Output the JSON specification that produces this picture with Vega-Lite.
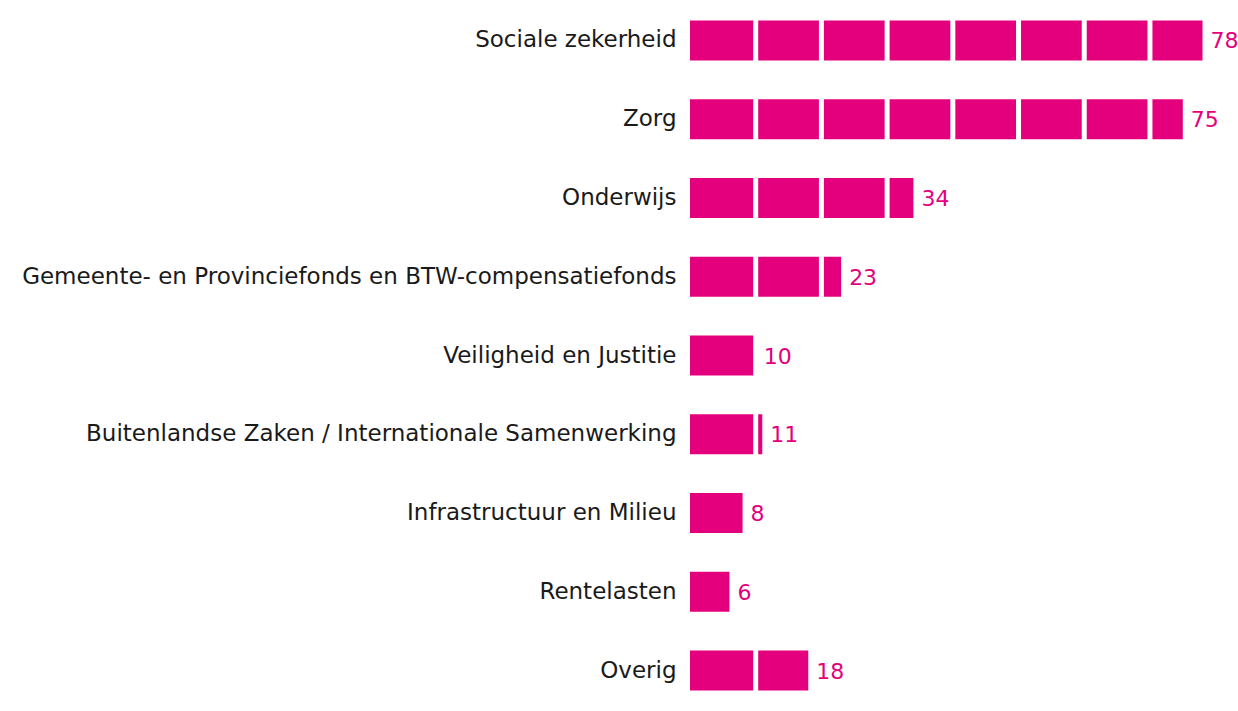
{
  "$schema": "https://vega.github.io/schema/vega-lite/v6.json",
  "autosize": "none",
  "padding": {"left": 690, "top": 1, "right": 0, "bottom": 0},
  "width": 548,
  "height": 709,
  "background": "white",
  "config": {"view": {"stroke": null}, "font": "DejaVu Sans"},
  "datasets": {
    "bars": [
      {"categorie": "Sociale zekerheid", "waarde": 78},
      {"categorie": "Zorg", "waarde": 75},
      {"categorie": "Onderwijs", "waarde": 34},
      {"categorie": "Gemeente- en Provinciefonds en BTW-compensatiefonds", "waarde": 23},
      {"categorie": "Veiligheid en Justitie", "waarde": 10},
      {"categorie": "Buitenlandse Zaken / Internationale Samenwerking", "waarde": 11},
      {"categorie": "Infrastructuur en Milieu", "waarde": 8},
      {"categorie": "Rentelasten", "waarde": 6},
      {"categorie": "Overig", "waarde": 18}
    ],
    "breaks": [{"grens": 10}, {"grens": 20}, {"grens": 30}, {"grens": 40}, {"grens": 50}, {"grens": 60}, {"grens": 70}]
  },
  "layer": [
    {
      "data": {"name": "bars"},
      "mark": {"type": "bar", "color": "#E4007C"},
      "encoding": {
        "y": {"field": "categorie", "type": "nominal", "sort": null,
              "scale": {"paddingInner": 0.492, "paddingOuter": 0.246},
              "axis": {"title": null, "ticks": false, "domain": false, "labelPadding": 14,
                       "labelFontSize": 23, "labelColor": "#1a1a1a", "labelLimit": 0}},
        "x": {"field": "waarde", "type": "quantitative", "scale": {"domain": [0, 83.4], "nice": false},
              "axis": null}
      }
    },
    {
      "data": {"name": "breaks"},
      "mark": {"type": "rule", "color": "white", "strokeWidth": 5},
      "encoding": {
        "x": {"field": "grens", "type": "quantitative"}
      }
    },
    {
      "data": {"name": "bars"},
      "mark": {"type": "text", "align": "left", "baseline": "middle", "dx": 8, "dy": 1, "fontSize": 22, "color": "#E4007C"},
      "encoding": {
        "y": {"field": "categorie", "type": "nominal", "sort": null},
        "x": {"field": "waarde", "type": "quantitative"},
        "text": {"field": "waarde", "type": "quantitative"}
      }
    }
  ]
}
